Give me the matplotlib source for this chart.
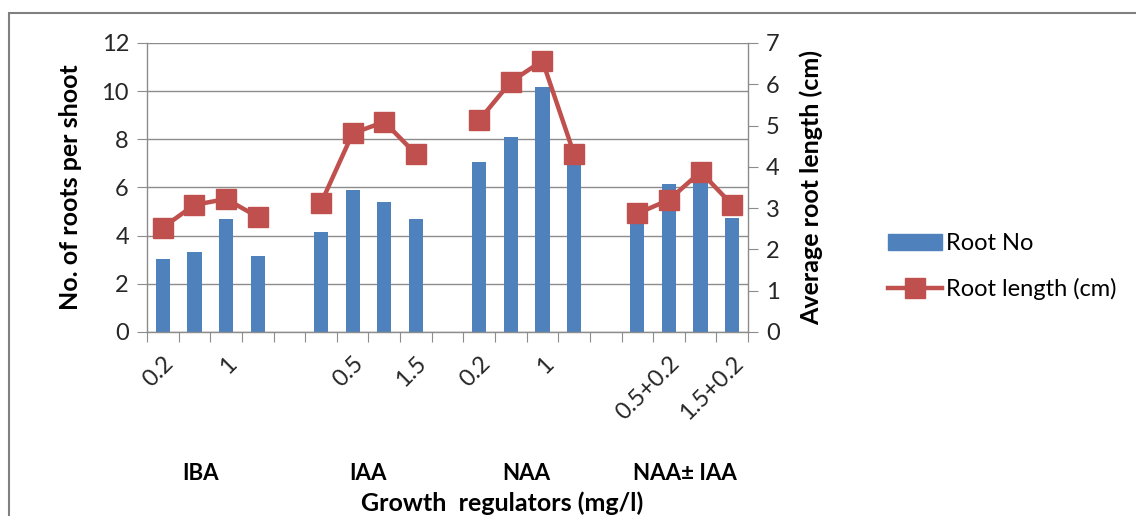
import matplotlib.pyplot as plt
from matplotlib.patches import Rectangle
from matplotlib.lines import Line2D
import numpy as np

plt.rcParams['font.family'] = ['Lato', 'DejaVu Sans']

# Categories (blank slots separate the regulator groups)
groups = ['IBA', 'IAA', 'NAA', 'NAA\u00b1 IAA']
tick_labels = ['0.2', '', '1', '', '',
               '', '0.5', '', '1.5', '',
               '0.2', '', '1', '', '',
               '', '0.5+0.2', '', '1.5+0.2']
root_no = [3.03, 3.33, 4.68, 3.17, np.nan,
           4.14, 5.90, 5.41, 4.68, np.nan,
           7.07, 8.10, 10.16, 7.2, np.nan,
           4.8, 6.15, 6.45, 4.72]
root_len = [2.53, 3.08, 3.22, 2.79, np.nan,
            3.12, 4.81, 5.09, 4.31, np.nan,
            5.13, 6.06, 6.57, 4.31, np.nan,
            2.87, 3.20, 3.88, 3.08]

blue = '#4F81BD'
red = '#C0504D'
grey = '#8c8c8c'
ink = '#262626'

x = np.arange(len(tick_labels))

fig = plt.figure(figsize=(11.36, 5.16), dpi=100)
ax = fig.add_axes([0.1294, 0.3566, 0.5291, 0.5601])
ax2 = ax.twinx()

ax.bar(x, root_no, width=0.45, color=blue, zorder=2)
ax.set_ylim(0, 12)
ax.set_yticks(range(0, 13, 2))
ax.set_xlim(-0.5, len(x) - 0.5)
ax.grid(axis='y', color=grey, linewidth=1.0, zorder=0)
ax.set_axisbelow(True)

ax2.plot(x, root_len, color=red, linewidth=3.2, marker='s', markersize=14,
         zorder=3)
ax2.set_ylim(0, 7)
ax2.set_yticks(range(0, 8))

# x ticks on the category boundaries, labels at the categories
ax.set_xticks(np.arange(-0.5, len(x), 1))
ax.set_xticklabels([])
ax.tick_params(axis='x', which='major', length=7, color=grey)
ax.set_xticks(x, minor=True)
ax.set_xticklabels(tick_labels, minor=True, rotation=45, ha='right',
                   va='top', rotation_mode='anchor', fontsize=17,
                   color=ink)
ax.tick_params(axis='x', which='minor', length=0, pad=15)

ax.tick_params(axis='y', length=7, color=grey, labelsize=17, pad=6,
               labelcolor=ink)
ax2.tick_params(axis='y', length=7, color=grey, labelsize=17, pad=6,
                labelcolor=ink)

for a in (ax, ax2):
    for s in a.spines.values():
        s.set_visible(False)
ax.spines['left'].set_visible(True)
ax.spines['bottom'].set_visible(True)
ax2.spines['right'].set_visible(True)
for s in (ax.spines['left'], ax.spines['bottom'], ax2.spines['right']):
    s.set_color(grey)
    s.set_linewidth(1.0)

ax.set_ylabel('No. of roots per shoot', fontsize=18, fontweight='bold',
              labelpad=14)
ax2.set_ylabel('Average root length (cm)', fontsize=18, fontweight='bold',
               labelpad=14)

# group names under the tick labels
for i, g in enumerate(groups):
    cx = i * 5 + 1.5
    if i == 0:
        cx -= 0.3
    ax.text(cx, -0.49, g, transform=ax.get_xaxis_transform(), ha='center',
            va='center', fontsize=16, fontweight='bold')
fig.text(0.442, 0.025, 'Growth  regulators (mg/l)', ha='center',
         va='center', fontsize=18, fontweight='bold')

handles = [Rectangle((0, 0), 1, 1, color=blue),
           Line2D([], [], color=red, linewidth=3.2, marker='s',
                  markersize=14)]
fig.legend(handles, ['Root No', 'Root length (cm)'], loc='center left',
           bbox_to_anchor=(0.763, 0.483), frameon=False, fontsize=17,
           handlelength=2.3, handletextpad=0.15, labelspacing=1.0)

# outer chart frame
fig.patches.append(Rectangle((9 / 1136, -0.05), 1.2, 1 - 13 / 516 + 0.05,
                             transform=fig.transFigure, fill=False,
                             edgecolor='#808080', linewidth=1.5))

fig.savefig('out.png', dpi=100)
